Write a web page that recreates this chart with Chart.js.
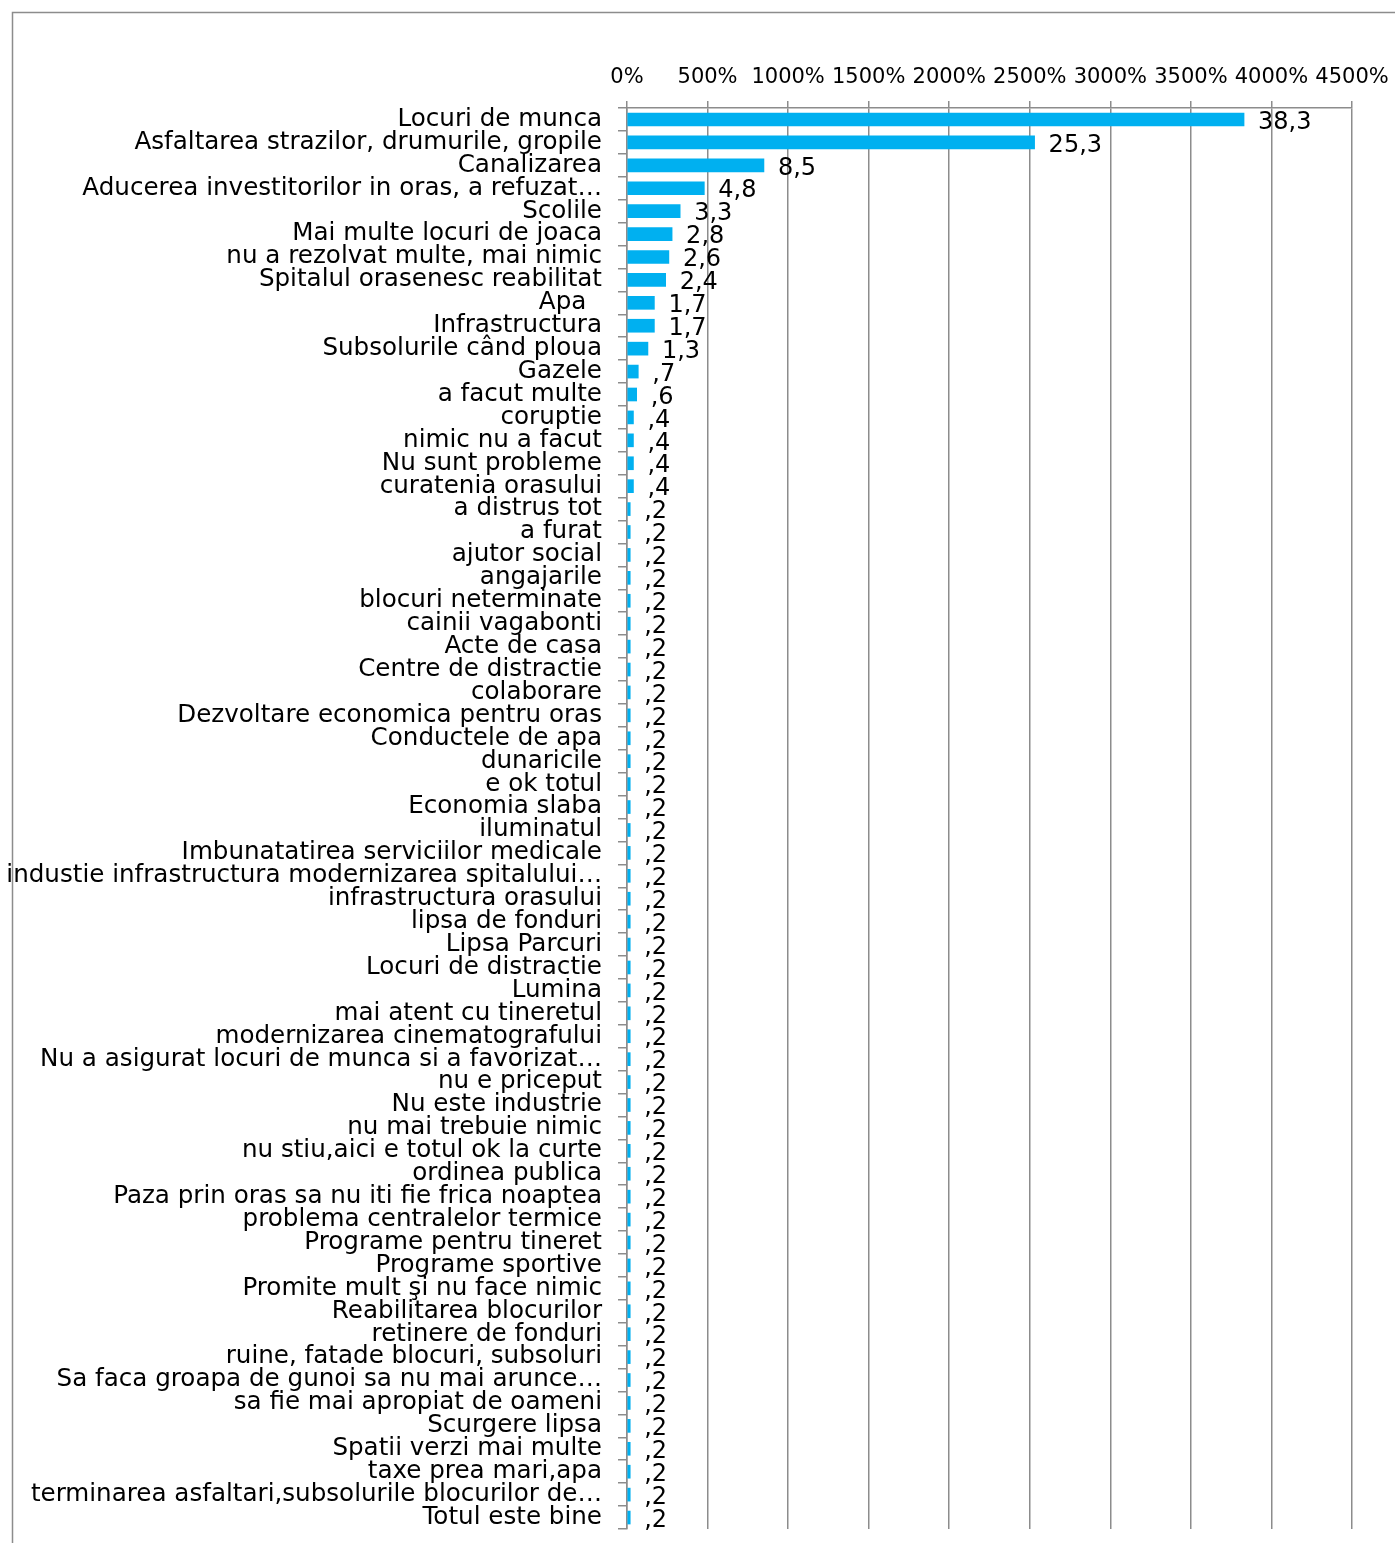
<!DOCTYPE html>
<html>
<head>
<meta charset="utf-8">
<script src="https://cdn.jsdelivr.net/npm/chart.js@4"></script>
<style>
  body { margin: 0; background: #fff; }
  canvas { display: block; }
</style>
</head>
<body>
<canvas id="chart-bar" width="1395" height="1543"></canvas>
<script>
const categories = [
  "Locuri de munca",
  "Asfaltarea strazilor, drumurile, gropile",
  "Canalizarea",
  "Aducerea investitorilor in oras, a refuzat…",
  "Scolile",
  "Mai multe locuri de joaca",
  "nu a rezolvat multe, mai nimic",
  "Spitalul orasenesc reabilitat",
  "Apa  ",
  "Infrastructura",
  "Subsolurile când ploua",
  "Gazele",
  "a facut multe",
  "coruptie",
  "nimic nu a facut",
  "Nu sunt probleme",
  "curatenia orasului",
  "a distrus tot",
  "a furat",
  "ajutor social",
  "angajarile",
  "blocuri neterminate",
  "cainii vagabonti",
  "Acte de casa",
  "Centre de distractie",
  "colaborare",
  "Dezvoltare economica pentru oras",
  "Conductele de apa",
  "dunaricile",
  "e ok totul",
  "Economia slaba",
  "iluminatul",
  "Imbunatatirea serviciilor medicale",
  "industie infrastructura modernizarea spitalului…",
  "infrastructura orasului",
  "lipsa de fonduri",
  "Lipsa Parcuri",
  "Locuri de distractie",
  "Lumina",
  "mai atent cu tineretul",
  "modernizarea cinematografului",
  "Nu a asigurat locuri de munca si a favorizat…",
  "nu e priceput",
  "Nu este industrie",
  "nu mai trebuie nimic",
  "nu stiu,aici e totul ok la curte",
  "ordinea publica",
  "Paza prin oras sa nu iti fie frica noaptea",
  "problema centralelor termice",
  "Programe pentru tineret",
  "Programe sportive",
  "Promite mult şi nu face nimic",
  "Reabilitarea blocurilor",
  "retinere de fonduri",
  "ruine, fatade blocuri, subsoluri",
  "Sa faca groapa de gunoi sa nu mai arunce…",
  "sa fie mai apropiat de oameni",
  "Scurgere lipsa",
  "Spatii verzi mai multe",
  "taxe prea mari,apa",
  "terminarea asfaltari,subsolurile blocurilor de…",
  "Totul este bine",
];

const values = [
  38.3, 25.3, 8.5, 4.8, 3.3, 2.8, 2.6, 2.4, 1.7, 1.7, 1.3, 0.7, 0.6,
  0.4, 0.4, 0.4, 0.4,
  0.2, 0.2, 0.2, 0.2, 0.2, 0.2, 0.2, 0.2, 0.2, 0.2, 0.2, 0.2, 0.2, 0.2, 0.2,
  0.2, 0.2, 0.2, 0.2, 0.2, 0.2, 0.2, 0.2, 0.2, 0.2, 0.2, 0.2, 0.2, 0.2, 0.2,
  0.2, 0.2, 0.2, 0.2, 0.2, 0.2, 0.2, 0.2, 0.2, 0.2, 0.2, 0.2, 0.2, 0.2, 0.2,
];

// axis goes 0 .. 45 and is printed as percent (x100)
const axisMax = 45;
const axisStep = 5;

const FONT = "'DejaVu Sans', sans-serif";
const GRID = "#8c8c8c";

// 0.7 -> ",7" , 38.3 -> "38,3"
function fmt(v) {
  return v.toFixed(1).replace(".", ",").replace(/^0/, "");
}

const frameAndValues = {
  id: "frameAndValues",
  beforeDraw(chart) {
    const ctx = chart.ctx;
    ctx.save();
    ctx.strokeStyle = GRID;
    ctx.lineWidth = 1.5;
    ctx.beginPath();
    ctx.moveTo(12.5, chart.height);
    ctx.lineTo(12.5, 12.5);
    ctx.lineTo(chart.width, 12.5);
    ctx.stroke();
    ctx.restore();
  },
  afterDatasetsDraw(chart) {
    const ctx = chart.ctx;
    const meta = chart.getDatasetMeta(0);
    ctx.save();
    ctx.fillStyle = "#000";
    ctx.font = "24px " + FONT;
    ctx.textAlign = "left";
    ctx.textBaseline = "middle";
    meta.data.forEach((bar, i) => {
      ctx.fillText(fmt(values[i]), bar.x + 14, bar.y + 3);
    });
    ctx.restore();
  },
};

const ctx = document.getElementById("chart-bar");
const chart = new Chart(ctx, {
  type: "bar",
  data: {
    labels: categories,
    datasets: [
      {
        data: values,
        backgroundColor: "#00B0F0",
        borderWidth: 0,
        barThickness: 13,
      },
    ],
  },
  options: {
    indexAxis: "y",
    responsive: false,
    animation: false,
    layout: { padding: { top: 0, right: 43, bottom: 14, left: 0 } },
    plugins: {
      legend: { display: false },
      tooltip: { enabled: false },
    },
    scales: {
      x: {
        position: "top",
        min: 0,
        max: axisMax,
        afterFit: (s) => {
          s.height = 108;
          s.paddingLeft = 0;
          s.paddingRight = 0;
        },
        ticks: {
          stepSize: axisStep,
          autoSkip: false,
          maxRotation: 0,
          minRotation: 0,
          color: "#000",
          padding: 11,
          font: { family: FONT, size: 21 },
          callback: (v) => v * 100 + "%",
        },
        grid: { color: GRID, lineWidth: 1.5, tickLength: 7 },
        border: { color: GRID, width: 1.5 },
      },
      y: {
        afterFit: (s) => {
          s.width = 627;
          s.paddingTop = 0;
          s.paddingBottom = 0;
        },
        ticks: {
          autoSkip: false,
          color: "#000",
          padding: 16,
          font: { family: FONT, size: 24.6, lineHeight: 1 },
        },
        grid: {
          offset: true,
          drawOnChartArea: false,
          color: GRID,
          lineWidth: 1.5,
          tickLength: 9,
        },
        border: { color: GRID, width: 1.5 },
      },
    },
  },
  plugins: [frameAndValues],
});
</script>
</body>
</html>
